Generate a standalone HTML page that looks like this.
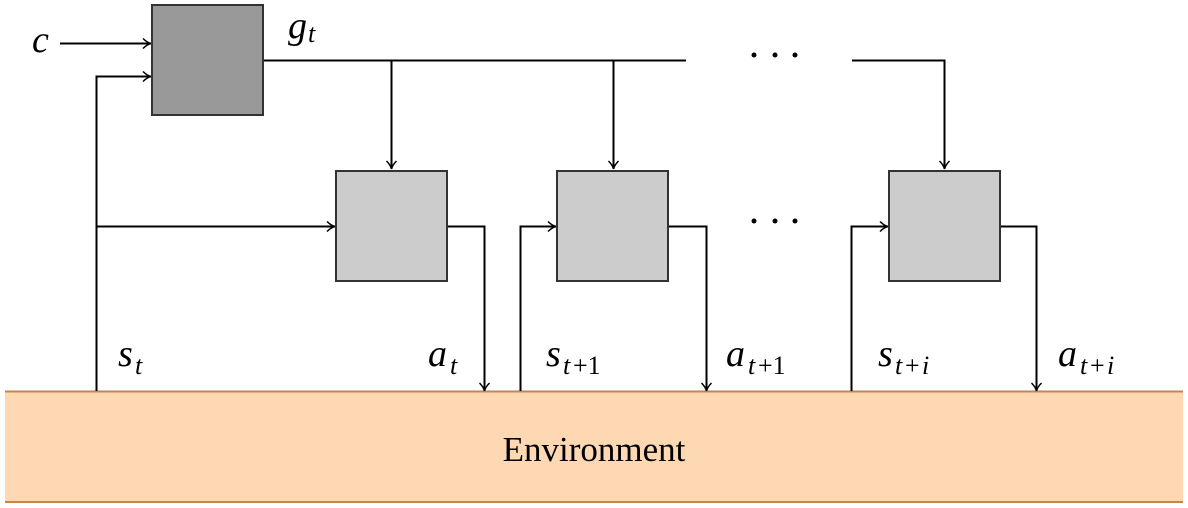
<!DOCTYPE html>
<html><head><meta charset="utf-8"><style>
html,body{margin:0;padding:0;background:#fff;}
svg{display:block;}
text{font-family:"Liberation Serif",serif;}
.m{font-style:italic;font-size:38px;}
.s{font-style:italic;font-size:26px;}
.n{font-style:normal;font-size:26px;}
</style></head><body>
<svg width="1188" height="508" viewBox="0 0 1188 508" xmlns="http://www.w3.org/2000/svg">
<defs>
<marker id="a" markerWidth="12" markerHeight="12" refX="10" refY="6" orient="auto" markerUnits="userSpaceOnUse">
<path d="M2,1 Q6,5 10,6 Q6,7 2,11" fill="none" stroke="#000" stroke-width="1.5"/>
</marker>
</defs>
<rect x="5" y="391.5" width="1178" height="110.5" fill="#fdd8b2"/>
<line x1="5" y1="391.5" x2="1183" y2="391.5" stroke="#c6864a" stroke-width="2"/>
<line x1="5" y1="502" x2="1183" y2="502" stroke="#c6864a" stroke-width="2"/>
<text x="594" y="461" text-anchor="middle" font-size="35">Environment</text>

<g stroke="#000" stroke-width="2" fill="none">
<line x1="60" y1="43.5" x2="151" y2="43.5" marker-end="url(#a)"/>
<polyline points="96.5,391 96.5,76.5 151,76.5" marker-end="url(#a)"/>
<line x1="263" y1="60.5" x2="686" y2="60.5"/>
<line x1="391.5" y1="60" x2="391.5" y2="169" marker-end="url(#a)"/>
<line x1="613.5" y1="60" x2="613.5" y2="169" marker-end="url(#a)"/>
<polyline points="852,60.5 944.5,60.5 944.5,169" marker-end="url(#a)"/>
<line x1="96.5" y1="226.5" x2="335" y2="226.5" marker-end="url(#a)"/>
<polyline points="447,226.5 484.5,226.5 484.5,391" marker-end="url(#a)"/>
<polyline points="520.5,391 520.5,226.5 556,226.5" marker-end="url(#a)"/>
<polyline points="668,226.5 706.5,226.5 706.5,391" marker-end="url(#a)"/>
<polyline points="851.5,391 851.5,226.5 888,226.5" marker-end="url(#a)"/>
<polyline points="1000,226.5 1036.5,226.5 1036.5,391" marker-end="url(#a)"/>
</g>
<g stroke="#333" stroke-width="2">
<rect x="152" y="5" width="111" height="110" fill="#999"/>
<rect x="336" y="171" width="111" height="110" fill="#ccc"/>
<rect x="557" y="171" width="111" height="110" fill="#ccc"/>
<rect x="889" y="171" width="111" height="110" fill="#ccc"/>
</g>
<g fill="#000">
<circle cx="754" cy="55" r="2.5"/><circle cx="775" cy="55" r="2.5"/><circle cx="795" cy="55" r="2.5"/>
<circle cx="754" cy="221" r="2.5"/><circle cx="775" cy="221" r="2.5"/><circle cx="795" cy="221" r="2.5"/>
</g>
<text class="m" x="32" y="52">c</text>
<text class="m" x="288" y="38">g</text><text class="s" x="308" y="42">t</text>
<text class="m" x="118" y="366">s</text><text class="s" x="135" y="374">t</text>
<text class="m" x="428" y="366">a</text><text class="s" x="450" y="374">t</text>
<text class="m" x="546" y="366">s</text><text class="s" x="563" y="374">t</text><text class="n" x="573" y="374">+1</text>
<text class="m" x="726" y="366">a</text><text class="s" x="748" y="374">t</text><text class="n" x="758" y="374">+1</text>
<text class="m" x="878" y="366">s</text><text class="s" x="895" y="374">t</text><text class="n" x="905" y="374">+</text><text class="s" x="922" y="374">i</text>
<text class="m" x="1058" y="366">a</text><text class="s" x="1080" y="374">t</text><text class="n" x="1090" y="374">+</text><text class="s" x="1107" y="374">i</text>
</svg>
</body></html>
